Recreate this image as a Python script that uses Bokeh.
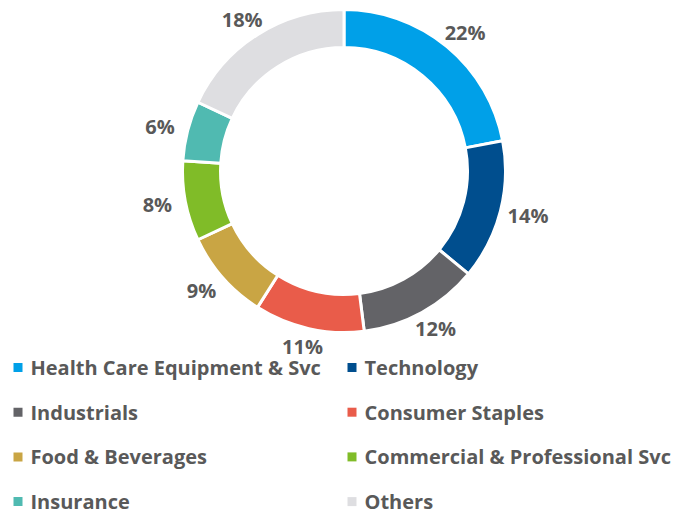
from math import pi
import numpy as np
from bokeh.plotting import figure
from bokeh.models import ColumnDataSource
from bokeh.core.properties import value
from bokeh.embed import file_html
from bokeh.resources import INLINE

categories = ["Health Care Equipment & Svc", "Technology", "Industrials", "Consumer Staples",
              "Food & Beverages", "Commercial & Professional Svc", "Insurance", "Others"]
shares = [22, 14, 12, 11, 9, 8, 6, 18]
colors = ["#00A0E8", "#004E8E", "#636367", "#E95C4A", "#C9A544", "#80BC28", "#50BAB1", "#DEDEE1"]

W, H = 681, 514
cx, cy = 343.5, H - 170.5
r_out, r_in = 161.5, 123.5
r_anchor = 168
half_w, half_h = 22, 12

s = np.array(shares, dtype=float)
tot = s.sum()
cum = np.concatenate([[0], np.cumsum(s)])
start = pi / 2 - 2 * pi * cum[:-1] / tot
end = pi / 2 - 2 * pi * cum[1:] / tot
mid = (start + end) / 2
ux, uy = np.cos(mid), np.sin(mid)

src = ColumnDataSource(dict(
    cat=categories, color=colors, start=start, end=end,
    lx=cx + r_anchor * ux + half_w * ux, ly=cy + r_anchor * uy + half_h * uy,
    lab=[f"{int(v)}%" for v in shares],
))

p = figure(width=W, height=H, x_range=(0, W), y_range=(0, H), output_backend="svg",
           toolbar_location=None, min_border=0, x_axis_type=None, y_axis_type=None)
p.grid.visible = False
p.outline_line_color = None

p.annular_wedge(x=cx, y=cy, inner_radius=r_in, outer_radius=r_out, start_angle="start",
                end_angle="end", direction="clock", fill_color="color", line_color="white",
                line_width=3, source=src)

txt = dict(text_font=value("Open Sans"), text_font_style="bold", text_color="#595959",
           text_font_size="20px")
p.text(x="lx", y="ly", text="lab", text_align="center", text_baseline="middle", source=src, **txt)

# legend
idx = np.arange(len(categories))
col = idx % 2
row = idx // 2
mx = np.where(col == 0, 17.5, 351.5)
tx = np.where(col == 0, 30, 364)
ry = H - (367 + row * 44.7)
lsrc = ColumnDataSource(dict(mx=mx, tx=tx, y=ry, cat=categories, color=colors))
p.scatter(x="mx", y="y", marker="square", size=9, fill_color="color", line_color=None, source=lsrc)
p.text(x="tx", y="y", text="cat", text_align="left", text_baseline="middle", source=lsrc, **txt)

open("out.html", "w").write(file_html(p, INLINE))
